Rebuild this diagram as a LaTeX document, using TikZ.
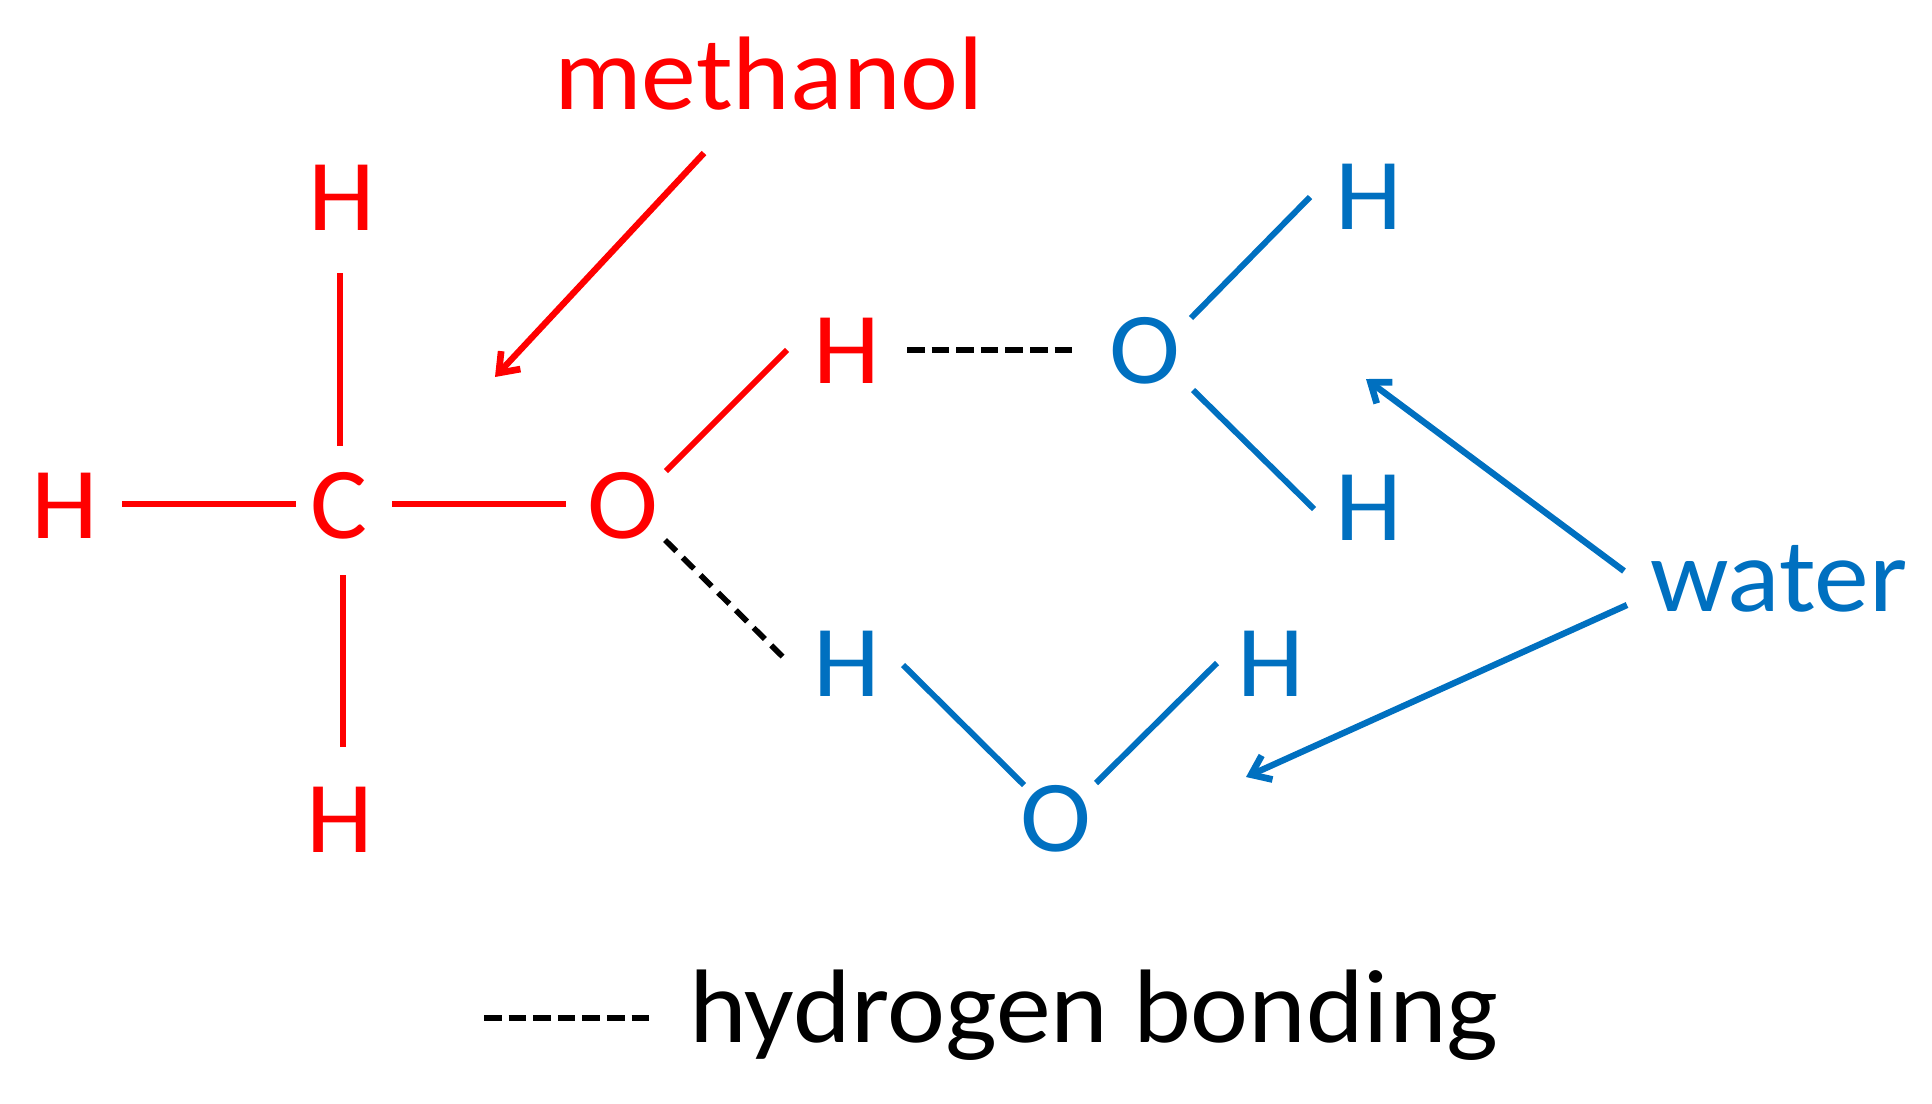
\documentclass[tikz,border=0pt]{standalone}
\usepackage{fontspec}
\setmainfont[FakeStretch=1.05]{Carlito}
\usetikzlibrary{arrows.meta}
\definecolor{wblue}{RGB}{0,112,192}
\definecolor{mred}{RGB}{255,0,0}
\tikzset{
 x=0.02cm,y=-0.02cm,
 atom/.style={inner sep=0pt,font=\fontsize{58pt}{60pt}\selectfont},
 lab/.style={inner sep=0pt,font=\fontsize{59.5pt}{62pt}\selectfont},
 bond/.style={line width=3.4pt},
 hb/.style={line width=3.6pt,black,dash pattern=on 10pt off 4pt},
 hbd/.style={line width=3.2pt,black,dash pattern=on 9pt off 5.2pt},
 pointer/.style={line width=3.6pt,-{Straight Barb[length=10pt,width=15pt,line width=3.8pt]}},
 red/.style={mred},
 blue/.style={wblue}
}
\begin{document}
\begin{tikzpicture}
\useasboundingbox (0,0) rectangle (1932,1103);
\node[atom,red] (Ht) at (342,198) {H};
\node[atom,red] (Hl) at (65,506) {H};
\node[atom,red] (C) at (339,506) {C};
\node[atom,red] (Hb) at (340,820) {H};
\node[atom,red] (Om) at (623,506) {O};
\node[atom,red] (Hm) at (847,351) {H};
\node[atom,blue] (O1) at (1145,351) {O};
\node[atom,blue] (H1) at (1369,197) {H};
\node[atom,blue] (H2) at (1369,508) {H};
\node[atom,blue] (H3) at (847,664) {H};
\node[atom,blue] (H4) at (1271,664) {H};
\node[atom,blue] (O2) at (1056,819) {O};
\node[lab,red] (meth) at (769,74) {methanol};
\node[lab,blue] (wat) at (1779,579) {water};
\node[lab] (hbl) at (1094,1015) {hydrogen bonding};
\coordinate (mB) at (495,377);
\coordinate (wE1) at (1366,379);
\coordinate (wE2) at (1246,777);
\coordinate (kA) at (484,1018);
\coordinate (kB) at (653,1018);
\draw[bond,red] ([shift={(-2,75)}]Ht.center) -- ([shift={(1,-60)}]C.center);
\draw[bond,red] ([shift={(57,-2)}]Hl.center) -- ([shift={(-43,-2)}]C.center);
\draw[bond,red] ([shift={(4,69)}]C.center) -- ([shift={(3,-73)}]Hb.center);
\draw[bond,red] ([shift={(53,-2)}]C.center) -- ([shift={(-57,-2)}]Om.center);
\draw[bond,red] ([shift={(43,-35)}]Om.center) -- ([shift={(-60,-1)}]Hm.center);
\draw[hb] ([shift={(60,-1)}]Hm.center) -- ([shift={(-70,-1)}]O1.center);
\draw[hbd] ([shift={(42,34)}]Om.center) -- ([shift={(-64,-7)}]H3.center);
\draw[bond,blue] ([shift={(46,-33)}]O1.center) -- ([shift={(-59,0)}]H1.center);
\draw[bond,blue] ([shift={(48,39)}]O1.center) -- ([shift={(-55,1)}]H2.center);
\draw[bond,blue] ([shift={(56,1)}]H3.center) -- ([shift={(-32,-34)}]O2.center);
\draw[bond,blue] ([shift={(40,-36)}]O2.center) -- ([shift={(-54,-1)}]H4.center);
\draw[pointer,red] ([shift={(-65,79)}]meth.center) -- (mB);
\draw[pointer,blue] ([shift={(-155,-8)}]wat.center) -- (wE1);
\draw[pointer,blue] ([shift={(-152,26)}]wat.center) -- (wE2);
\draw[hb] (kA) -- (kB);
\end{tikzpicture}
\end{document}
